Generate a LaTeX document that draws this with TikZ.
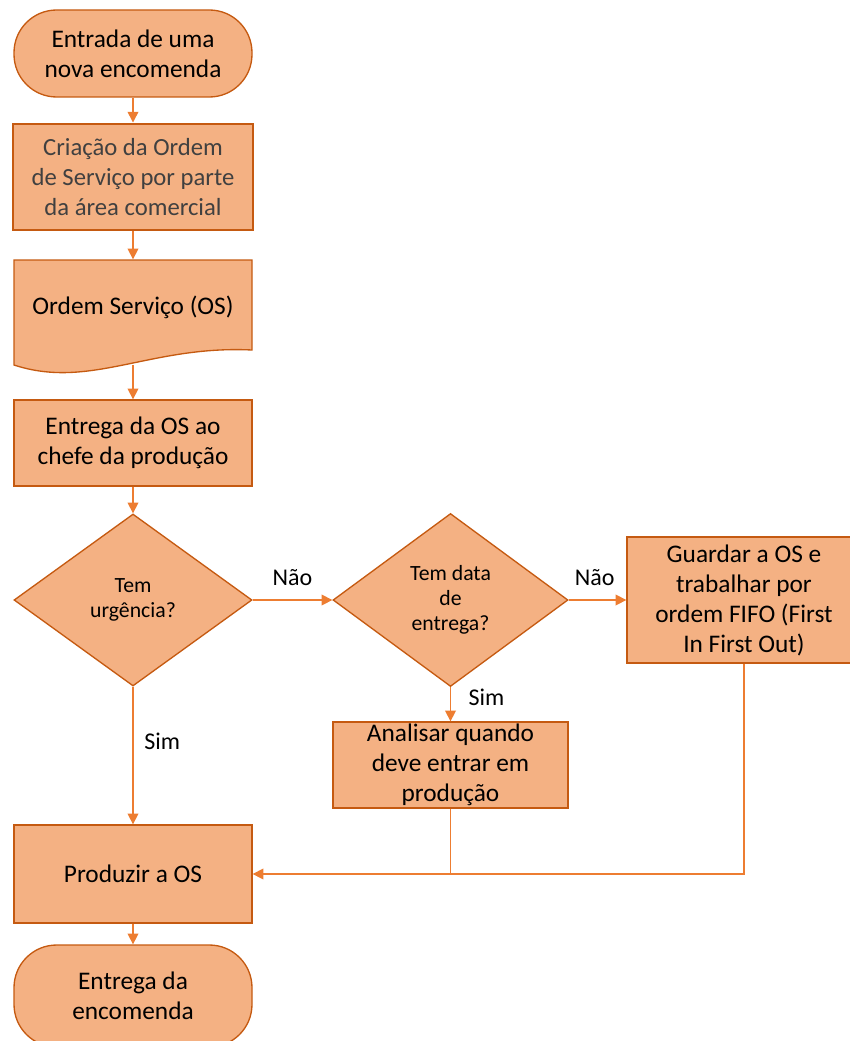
\documentclass[tikz,border=0pt]{standalone}
\usepackage{fontspec}
\setmainfont{Carlito}
\usetikzlibrary{shapes.geometric,arrows.meta}

\definecolor{caixa}{HTML}{F4B183}
\definecolor{borda}{HTML}{C55A11}
\definecolor{seta}{HTML}{ED7D31}
\definecolor{cinza}{HTML}{404040}

\tikzset{
  base/.style={fill=caixa, draw=borda, line width=1pt, align=center, inner sep=0pt,
    font=\fontsize{19}{22.5}\selectfont},
  terminal/.style={base, rectangle, rounded corners=32pt, minimum width=178.5pt, minimum height=65.25pt},
  processo/.style={base, rectangle, minimum width=178.5pt, minimum height=64.5pt},
  decisao/.style={base, diamond, aspect=1.38, minimum width=178.5pt, minimum height=129pt,
    font=\fontsize{16.3}{18.7}\selectfont},
  fluxo/.style={draw=seta, line width=1.1pt, -{Triangle[width=8pt,length=8pt]}},
  rotulo/.style={font=\fontsize{18}{21}\selectfont, inner sep=0pt},
}

\begin{document}
\begin{tikzpicture}[x=0.75pt, y=-0.75pt]
\useasboundingbox (0,0) rectangle (849,1041);

\node[terminal] (inicio) at (133,53.5) {Entrada de uma\\nova encomenda};
\node[processo, line width=2.2pt, minimum width=180pt, minimum height=79.5pt, text=cinza,
  font=\fontsize{18.5}{22.5}\selectfont] (criacao) at (133,177) {Criação da Ordem\\de Serviço por parte\\da área comercial};

% documento com base ondulada
\filldraw[fill=caixa, draw=borda, line width=1pt] (14,260) -- (252,260) -- (252,350)
  .. controls (150,345) and (90,390) .. (14,365) -- cycle;
\node[processo, fill=none, draw=none, minimum height=70.5pt] (os) at (133,307) {Ordem Serviço (OS)};
\coordinate (os-base) at (133,365);

\node[processo] (entrega) at (133,443) {Entrega da OS ao\\chefe da produção};
\node[decisao] (urgencia) at (133,600) {Tem\\urgência?};
\node[decisao, minimum width=176.25pt, minimum height=129.75pt] (data) at (450.5,600) {Tem data\\de\\entrega?};
\node[processo, minimum width=175.5pt, minimum height=94.5pt] (guardar) at (744,600)
  {Guardar a OS e\\trabalhar por\\ordem FIFO (First\\In First Out)};
\node[processo, minimum width=176.25pt] (analisar) at (450.5,765) {Analisar quando\\deve entrar em\\produção};
\node[processo, minimum height=73.5pt] (produzir) at (133,874) {Produzir a OS};
\node[terminal, minimum height=76.5pt] (fim) at (133,996) {Entrega da\\encomenda};

% ligacoes
\draw[fluxo] (inicio) -- (criacao);
\draw[fluxo] (criacao) -- (os);
\draw[fluxo] (os-base) -- (entrega);
\draw[fluxo] (entrega) -- (urgencia);
\draw[fluxo] (urgencia.east) -- node[rotulo, above=10pt] {Não} (data.west);
\draw[fluxo] (data.east) -- node[rotulo, above=10pt, pos=0.45] {Não} (guardar.west);
\draw[fluxo] (data) -- node[rotulo, right=13pt, pos=0.3] {Sim} (analisar);
\draw[fluxo] (urgencia) -- node[rotulo, right=8pt, pos=0.4] {Sim} (produzir);
\draw[fluxo] (guardar.south) |- (produzir.east);
\draw[draw=seta, line width=1.1pt] (analisar.south) -- (analisar.south |- produzir.east);
\draw[fluxo] (produzir) -- (fim);
\end{tikzpicture}
\end{document}
